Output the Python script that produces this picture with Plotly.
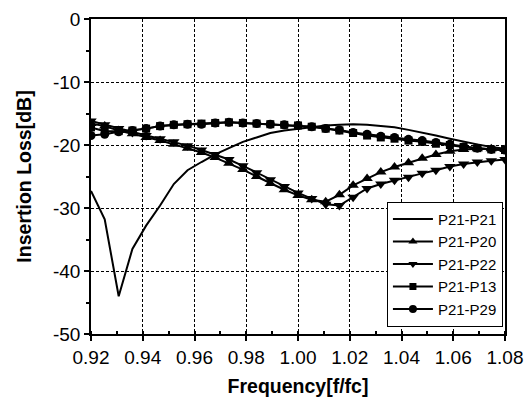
import plotly.graph_objects as go

freq = [0.92, 0.9253, 0.9307, 0.936, 0.9413, 0.9467, 0.952, 0.9573, 0.9627, 0.968,
        0.9733, 0.9787, 0.984, 0.9893, 0.9947, 1.0, 1.0053, 1.0107, 1.016, 1.0213,
        1.0267, 1.032, 1.0373, 1.0427, 1.048, 1.0533, 1.0587, 1.064, 1.0693, 1.0747, 1.08]

p21_p21 = [-27.3, -31.8, -44.0, -36.5, -32.8, -29.6, -26.2, -24.0, -22.7, -21.5,
           -20.5, -19.5, -18.8, -18.1, -17.7, -17.4, -17.1, -16.9, -16.8, -16.7,
           -16.8, -17.0, -17.2, -17.6, -18.0, -18.5, -19.0, -19.5, -19.9, -20.3, -20.6]

p21_p20 = [-16.6, -17.0, -17.7, -18.2, -18.8, -19.3, -19.9, -20.5, -21.2, -22.0,
           -22.9, -23.9, -25.0, -26.1, -27.1, -28.0, -28.7, -29.0, -27.9, -26.4,
           -25.3, -24.3, -23.5, -22.8, -22.1, -21.5, -21.0, -20.7, -20.6, -20.6, -20.7]

p21_p22 = [-16.2, -16.8, -17.4, -18.0, -18.5, -19.0, -19.5, -20.1, -20.8, -21.5,
           -22.3, -23.3, -24.4, -25.5, -26.6, -27.6, -28.5, -29.4, -29.6, -28.3,
           -26.9, -26.2, -25.6, -25.1, -24.5, -24.0, -23.4, -23.0, -22.7, -22.5, -22.3]

p21_p13 = [-17.2, -17.8, -17.8, -17.7, -17.4, -17.0, -16.8, -16.7, -16.6, -16.5,
           -16.4, -16.5, -16.6, -16.7, -16.8, -16.9, -17.1, -17.4, -17.7, -18.1,
           -18.5, -18.8, -19.0, -19.3, -19.5, -19.8, -20.0, -20.3, -20.5, -20.7, -20.8]

p21_p29 = [-18.5, -18.3, -17.9, -17.7, -17.4, -17.0, -16.8, -16.7, -16.7, -16.5,
           -16.4, -16.5, -16.6, -16.7, -16.8, -16.9, -17.1, -17.4, -17.6, -18.0,
           -18.3, -18.6, -18.8, -19.1, -19.3, -19.6, -19.9, -20.3, -20.5, -20.7, -20.8]

names = ["P21-P21", "P21-P20", "P21-P22", "P21-P13", "P21-P29"]
series = [p21_p21, p21_p20, p21_p22, p21_p13, p21_p29]
symbols = [None, "triangle-up", "triangle-down", "square", "circle"]
plot_sizes = [0, 10, 10, 8, 9]
legend_sizes = [0, 8, 8, 7, 8]

x_tickvals = [0.92, 0.94, 0.96, 0.98, 1.00, 1.02, 1.04, 1.06, 1.08]
x_ticktext = ["0.92", "0.94", "0.96", "0.98", "1.00", "1.02", "1.04", "1.06", "1.08"]
y_tickvals = [0, -10, -20, -30, -40, -50]
y_ticktext = ["0", "-10", "-20", "-30", "-40", "-50"]

FONT = "Liberation Sans, Arial, Helvetica, sans-serif"

fig = go.Figure()
for name, ys, sym, ps in zip(names, series, symbols, plot_sizes):
    mode = "lines" if sym is None else "lines+markers"
    fig.add_trace(go.Scatter(
        x=freq, y=ys, mode=mode, name=name, showlegend=False, legendgroup=name,
        line=dict(color="black", width=2),
        marker=dict(symbol=sym or "circle", size=ps, color="black"),
    ))
for name, sym, ls in zip(names, symbols, legend_sizes):
    mode = "lines" if sym is None else "lines+markers"
    fig.add_trace(go.Scatter(
        x=[None], y=[None], mode=mode, name=name, legendgroup=name,
        line=dict(color="black", width=2),
        marker=dict(symbol=sym or "circle", size=ls, color="black"),
    ))

fig.update_layout(
    width=531, height=397,
    margin=dict(l=91, r=26, t=19, b=63, autoexpand=False),
    paper_bgcolor="white", plot_bgcolor="white",
    font=dict(family=FONT, size=19, color="black"),
    legend=dict(
        x=0.995, xanchor="right", y=0.42, yanchor="top",
        bgcolor="white", bordercolor="black", borderwidth=1,
        font=dict(size=15, family=FONT, color="black"),
        tracegroupgap=0, itemwidth=40,
    ),
    xaxis=dict(
        range=[0.92, 1.08], tickvals=x_tickvals, ticktext=x_ticktext,
        automargin=False,
        showline=True, linecolor="black", linewidth=1.5, mirror=True,
        ticks="outside", ticklen=5, tickwidth=1.5, tickcolor="black",
        showgrid=True, gridcolor="black", gridwidth=1, griddash="3px,2px",
        zeroline=False,
        minor=dict(dtick=0.01, ticks="inside", ticklen=3, tickcolor="black", showgrid=False),
        tickfont=dict(size=19),
        title=dict(text="<b>Frequency[f/fc]</b>", font=dict(size=19.5), standoff=16),
    ),
    yaxis=dict(
        range=[-50, 0], tickvals=y_tickvals, ticktext=y_ticktext,
        automargin=False,
        showline=True, linecolor="black", linewidth=1.5, mirror=True,
        ticks="outside", ticklen=5, tickwidth=1.5, tickcolor="black",
        showgrid=True, gridcolor="black", gridwidth=1, griddash="3px,2px",
        zeroline=False,
        minor=dict(tickvals=[-5, -15, -25, -35, -45], ticks="outside", ticklen=3,
                   tickcolor="black", showgrid=False),
        tickfont=dict(size=19),
        title=dict(text="<b>Insertion Loss[dB]</b>", font=dict(size=19.5), standoff=16),
    ),
)

fig.write_html("out.html")
